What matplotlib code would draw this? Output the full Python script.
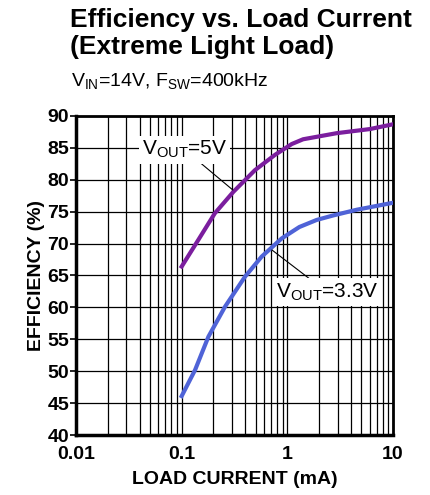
import numpy as np
import matplotlib
matplotlib.use("Agg")
import matplotlib.pyplot as plt
from matplotlib.ticker import LogLocator, FixedLocator, NullFormatter

plt.rcParams['font.family'] = ['Liberation Sans', 'DejaVu Sans']
plt.rcParams['mathtext.default'] = 'regular'

# Data (load current in mA, efficiency in %)
i_5v = [0.1, 0.144, 0.206, 0.308, 0.493, 0.763, 1.1, 1.41, 2.92, 6.04, 10]
eff_5v = [66.4, 70.6, 74.75, 78.1, 81.5, 83.9, 85.6, 86.35, 87.3, 87.95, 88.7]
i_33v = [0.1, 0.134, 0.179, 0.257, 0.397, 0.571, 0.883, 1.3, 1.89, 2.7, 4.52, 10]
eff_33v = [46.1, 50.2, 55.4, 60.1, 64.8, 67.95, 70.8, 72.6, 73.7, 74.4, 75.3, 76.4]

x_ticks = [0.01, 0.1, 1, 10]
x_ticklabels = ['0.01', '0.1', '1', '10']
y_ticks = list(range(40, 95, 5))

purple = '#7B1E9E'
blue = '#4F63D7'

fig = plt.figure(figsize=(4.3, 4.95), dpi=100)
ax = fig.add_axes([0.1767, 0.1212, 0.9140 - 0.1767, 0.7657 - 0.1212])

ax.set_xscale('log')
ax.set_xlim(0.01, 10)
ax.set_ylim(40, 90)

ax.xaxis.set_major_locator(FixedLocator(x_ticks))
ax.set_xticklabels(x_ticklabels)
ax.xaxis.set_minor_locator(LogLocator(base=10, subs=np.arange(2, 10)))
ax.xaxis.set_minor_formatter(NullFormatter())
ax.set_yticks(y_ticks)

ax.grid(True, which='both', color='black', linewidth=0.9)
ax.tick_params(axis='x', which='both', length=0, pad=8)
ax.tick_params(axis='y', which='major', length=4, width=1.2, direction='out', pad=1)
for lbl in ax.get_xticklabels() + ax.get_yticklabels():
    lbl.set_fontsize(14)
    lbl.set_fontweight('bold')

for side in ['left', 'bottom']:
    ax.spines[side].set_linewidth(2.5)
for side in ['top', 'right']:
    ax.spines[side].set_linewidth(2)

ax.plot(i_5v, eff_5v, color=purple, linewidth=3, solid_joinstyle='round', zorder=3)
ax.plot(i_33v, eff_33v, color=blue, linewidth=3, solid_joinstyle='round', zorder=3)

box = dict(boxstyle='square,pad=0.15', facecolor='white', edgecolor='none')
ax.annotate('$V_{OUT}$=5V', xy=(0.305, 78.4), xytext=(0.107, 84.7),
            ha='center', va='center', fontsize=15, bbox=box,
            arrowprops=dict(arrowstyle='-', color='black', linewidth=0.8,
                            shrinkA=0, shrinkB=0), zorder=4)
ax.annotate('$V_{OUT}$=3.3V', xy=(0.715, 69.0), xytext=(2.37, 62.4),
            ha='center', va='center', fontsize=15, bbox=box,
            arrowprops=dict(arrowstyle='-', color='black', linewidth=0.8,
                            shrinkA=0, shrinkB=0), zorder=4)

ax.set_xlabel('LOAD CURRENT (mA)', fontsize=14, fontweight='bold', labelpad=6)
ax.set_ylabel('EFFICIENCY (%)', fontsize=14, fontweight='bold', labelpad=2)

fig.text(0.163, 0.945, 'Efficiency vs. Load Current', fontsize=19, fontweight='bold', va='baseline')
fig.text(0.163, 0.891, '(Extreme Light Load)', fontsize=19, fontweight='bold', va='baseline')
fig.text(0.165, 0.826, '$V_{IN}$=14V, $F_{SW}$=400kHz', fontsize=14, va='baseline')

fig.savefig('out.png', dpi=100)
